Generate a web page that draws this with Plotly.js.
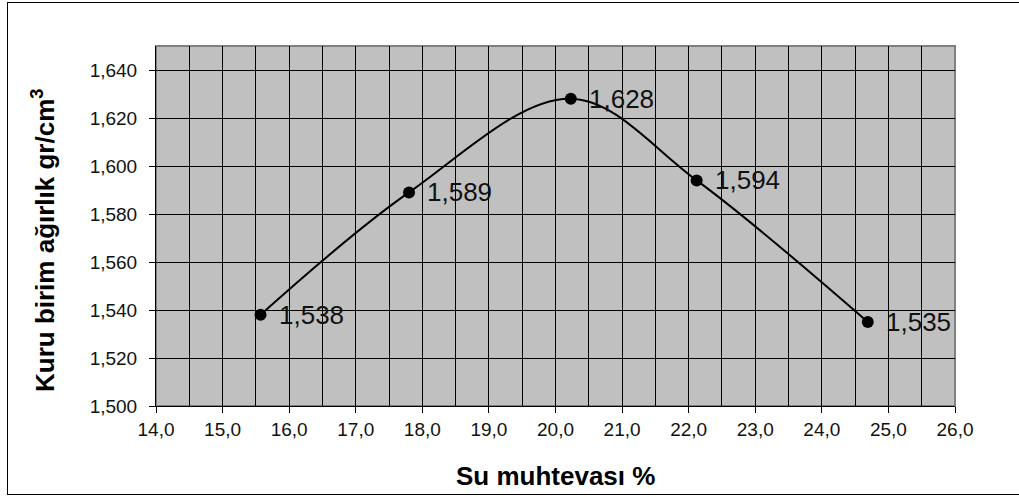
<!DOCTYPE html>
<html>
<head>
<meta charset="utf-8">
<script src="https://cdn.plot.ly/plotly-3.0.1.min.js"></script>
<style>
html,body{margin:0;padding:0;background:#fff;}
#wrap{position:relative;width:1019px;height:497px;overflow:hidden;}
#frame{position:absolute;left:7px;top:2px;width:1100px;height:493px;border:1px solid #000;box-sizing:border-box;pointer-events:none;}
#chart{position:absolute;left:0;top:0;width:1019px;height:497px;}
</style>
</head>
<body>
<div id="wrap">
<div id="chart"></div>
<div id="frame"></div>
</div>
<script>
const waterContent = [15.57, 17.80, 20.23, 22.12, 24.69];
const dryDensity = [1.538, 1.589, 1.628, 1.594, 1.535];
const pointLabels = ["1,538", "1,589", "1,628", "1,594", "1,535"];
const xTitle = "Su muhtevası %";
const yTitle = "Kuru birim ağırlık gr/cm<sup>3</sup>";

const FONT = 'Arial, "Liberation Sans", sans-serif';

const trace = {
  x: waterContent,
  y: dryDensity,
  type: 'scatter',
  mode: 'lines+markers',
  line: {color: '#000', width: 2, shape: 'spline', smoothing: 1},
  marker: {color: '#000', size: 12},
  hoverinfo: 'skip'
};

const annotations = waterContent.map((x, i) => ({
  x: x, y: dryDensity[i], xref: 'x', yref: 'y',
  text: pointLabels[i], showarrow: false,
  xanchor: 'left', yanchor: 'middle', xshift: 16,
  font: {family: FONT, size: 26, color: '#111'}
}));

annotations.push({
  text: '<b>' + xTitle + '</b>', xref: 'paper', yref: 'paper', x: 0.5, y: 0,
  xanchor: 'center', yanchor: 'middle', yshift: -70, showarrow: false,
  font: {family: FONT, size: 26, color: '#000'}
});
annotations.push({
  text: '<b>' + yTitle + '</b>', xref: 'paper', yref: 'paper', x: 0, y: 0.5,
  xanchor: 'center', yanchor: 'middle', xshift: -113, yshift: -15, textangle: -90, showarrow: false,
  font: {family: FONT, size: 26, color: '#000'}
});

const layout = {
  width: 1019, height: 497,
  margin: {l: 156, r: 64, t: 46, b: 91},
  paper_bgcolor: 'rgba(0,0,0,0)',
  plot_bgcolor: '#c0c0c0',
  separators: ',.',
  showlegend: false,
  xaxis: {
    range: [14, 26], dtick: 1, tick0: 14, tickformat: '.1f',
    showgrid: true, gridcolor: '#000', gridwidth: 1,
    minor: {dtick: 0.5, showgrid: true, gridcolor: '#000', gridwidth: 1, ticks: ''},
    ticks: 'outside', ticklen: 6, tickcolor: '#000', tickwidth: 1,
    showline: true, linecolor: '#000', linewidth: 1, zeroline: false,
    tickfont: {family: FONT, size: 19, color: '#111'},
    fixedrange: true
  },
  yaxis: {
    range: [1.5, 1.65], dtick: 0.02, tick0: 1.5, tickformat: '.3f',
    showgrid: true, gridcolor: '#000', gridwidth: 1,
    ticks: 'outside', ticklen: 6, tickcolor: '#000', tickwidth: 1,
    ticklabelstandoff: 8,
    showline: true, linecolor: '#000', linewidth: 1, zeroline: false,
    tickfont: {family: FONT, size: 19, color: '#111'},
    fixedrange: true
  },
  shapes: [{
    type: 'rect', xref: 'paper', yref: 'paper', x0: 0, x1: 1, y0: 0, y1: 1,
    line: {color: '#808080', width: 2}, layer: 'below'
  }],
  annotations: annotations
};

Plotly.newPlot('chart', [trace], layout, {displayModeBar: false, staticPlot: true});
</script>
</body>
</html>
